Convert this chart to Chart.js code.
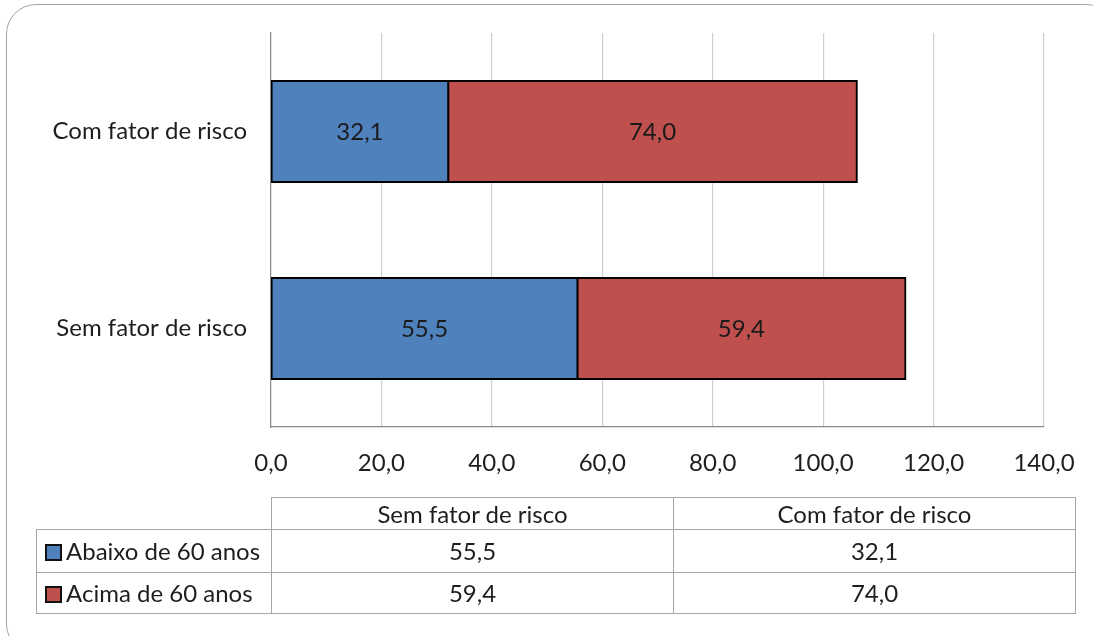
<!DOCTYPE html>
<html lang="pt">
<head>
<meta charset="utf-8">
<title>Fator de risco por faixa etária</title>
<script src="https://cdn.jsdelivr.net/npm/chart.js@4.4.1/dist/chart.umd.min.js"></script>
<style>
  html, body { margin: 0; padding: 0; background: #fff; }
  body { width: 1093px; height: 636px; overflow: hidden; position: relative; font-family: Lato, "Open Sans", sans-serif; }
  #frame {
    position: absolute; left: 6px; top: 4px; width: 1110px; height: 650px;
    border: 1.5px solid #a3a3a3; border-radius: 30px; box-sizing: border-box;
  }
  #chart { position: absolute; left: 0; top: 0; }
  #dataTable {
    position: absolute; left: 36px; top: 497px;
    border-collapse: collapse; table-layout: fixed;
    font-family: Lato, sans-serif; font-size: 24px; color: #1e1e1e;
  }
  #dataTable td { border: 1.5px solid #a6a6a6; text-align: center; padding: 0; white-space: nowrap; line-height: 1; }
  #dataTable td.blank { border: none; }
  #dataTable td.name { text-align: left; padding-left: 8px; }
  .key { display: inline-block; width: 13px; height: 13px; border: 2px solid #111; vertical-align: -1px; margin-right: 4px; }
</style>
</head>
<body>
<div id="frame"></div>
<canvas id="chart" width="1093" height="636"></canvas>
<table id="dataTable"></table>
<script>
// Categories in data-table order (first one is drawn at the bottom of the bar axis)
const categories = ['Sem fator de risco', 'Com fator de risco'];
const seriesNames = ['Abaixo de 60 anos', 'Acima de 60 anos'];
const abaixo60 = [55.5, 32.1];
const acima60 = [59.4, 74.0];
const seriesColors = ['#4F81BD', '#C0504D'];
const xMin = 0, xMax = 140, xStep = 20;

const fmt = v => v.toFixed(1).replace('.', ',');
const seriesValues = [abaixo60, acima60];

// Data table under the chart
function buildTable() {
  const table = document.getElementById('dataTable');
  const colgroup = document.createElement('colgroup');
  [235, 402, 402].forEach(w => {
    const c = document.createElement('col');
    c.style.width = w + 'px';
    colgroup.appendChild(c);
  });
  table.appendChild(colgroup);

  const head = document.createElement('tr');
  head.style.height = '32px';
  const blank = document.createElement('td');
  blank.className = 'blank';
  head.appendChild(blank);
  categories.forEach(cat => {
    const td = document.createElement('td');
    td.textContent = cat;
    head.appendChild(td);
  });
  table.appendChild(head);

  const rowHeights = [43, 41];
  seriesNames.forEach((name, i) => {
    const tr = document.createElement('tr');
    tr.style.height = rowHeights[i] + 'px';
    const nameCell = document.createElement('td');
    nameCell.className = 'name';
    const key = document.createElement('span');
    key.className = 'key';
    key.style.background = seriesColors[i];
    nameCell.appendChild(key);
    nameCell.appendChild(document.createTextNode(name));
    tr.appendChild(nameCell);
    seriesValues[i].forEach(v => {
      const td = document.createElement('td');
      td.textContent = fmt(v);
      tr.appendChild(td);
    });
    table.appendChild(tr);
  });
}

// Value labels centred inside each bar segment
const segmentLabels = {
  id: 'segmentLabels',
  afterDatasetsDraw(chart) {
    const ctx = chart.ctx;
    ctx.save();
    ctx.font = '24px Lato';
    ctx.fillStyle = '#1a1a1a';
    ctx.textAlign = 'center';
    ctx.textBaseline = 'middle';
    chart.data.datasets.forEach((ds, di) => {
      const meta = chart.getDatasetMeta(di);
      meta.data.forEach((bar, i) => {
        const p = bar.getProps(['x', 'y', 'base'], true);
        ctx.fillText(fmt(ds.data[i]), (p.x + p.base) / 2, p.y + 1);
      });
    });
    ctx.restore();
  }
};

function drawChart() {
  Chart.defaults.font.family = 'Lato';
  Chart.defaults.font.size = 24;
  Chart.defaults.color = '#1e1e1e';

  new Chart(document.getElementById('chart'), {
    type: 'bar',
    data: {
      labels: categories,
      datasets: [
        {
          label: seriesNames[0],
          data: abaixo60,
          backgroundColor: seriesColors[0],
          borderColor: '#000',
          borderWidth: 2,
          borderSkipped: false,
          inflateAmount: 1,
          categoryPercentage: 1,
          barPercentage: 0.513
        },
        {
          label: seriesNames[1],
          data: acima60,
          backgroundColor: seriesColors[1],
          borderColor: '#000',
          borderWidth: 2,
          borderSkipped: false,
          inflateAmount: 1,
          categoryPercentage: 1,
          barPercentage: 0.513
        }
      ]
    },
    options: {
      indexAxis: 'y',
      responsive: false,
      animation: false,
      layout: { padding: { top: 33, right: 49, bottom: 149, left: 0 } },
      plugins: { legend: { display: false }, tooltip: { enabled: false } },
      scales: {
        x: {
          stacked: true,
          min: xMin,
          max: xMax,
          ticks: { stepSize: xStep, padding: 22, callback: v => fmt(v), maxRotation: 0 },
          grid: { color: '#cfcfcf', lineWidth: 1.2, drawTicks: false, tickLength: 0 },
          border: { display: true, color: '#8a8a8a', width: 1.2 },
          afterFit: s => { s.height = 60; s.paddingLeft = 0; s.paddingRight = 0; }
        },
        y: {
          stacked: true,
          reverse: true,
          ticks: { padding: 24 },
          grid: { display: false, drawTicks: false, tickLength: 0 },
          border: { display: true, color: '#8a8a8a', width: 1.2 },
          afterFit: s => { s.width = 271; s.paddingTop = 0; s.paddingBottom = 0; }
        }
      }
    },
    plugins: [segmentLabels]
  });
}

buildTable();
const ready = document.fonts && document.fonts.load ? document.fonts.load('24px Lato') : Promise.resolve();
ready.then(drawChart, drawChart);
</script>
</body>
</html>
